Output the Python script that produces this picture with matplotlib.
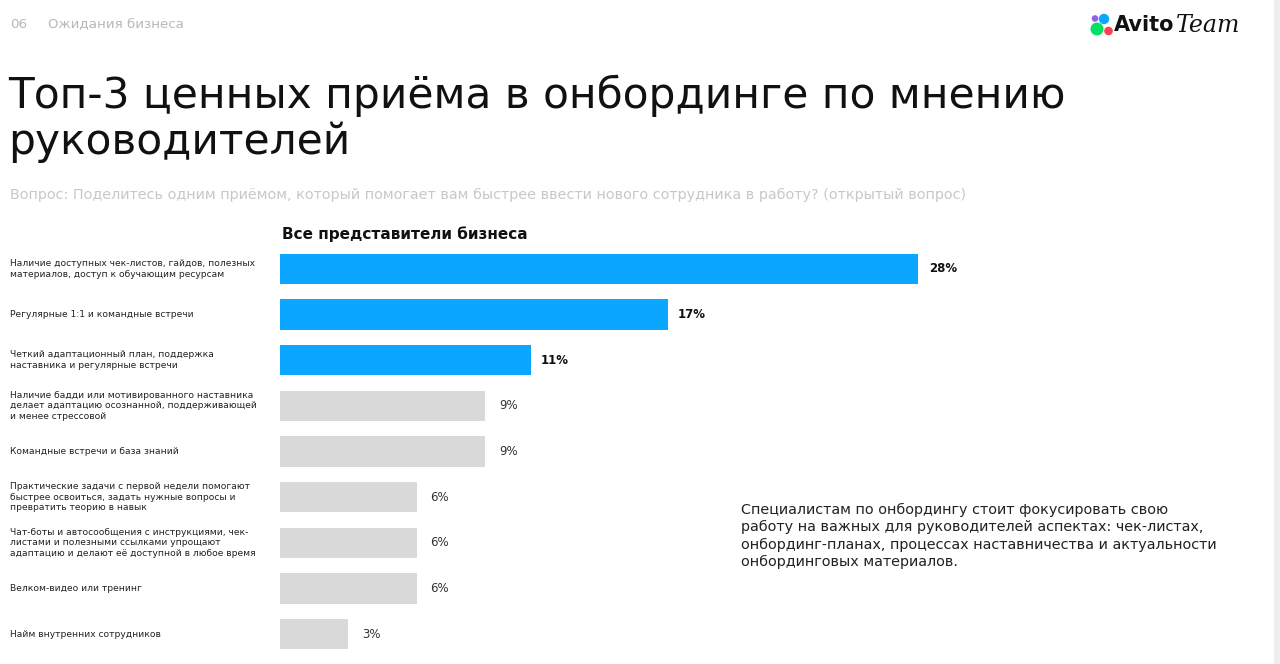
import matplotlib
matplotlib.use("Agg")
import matplotlib.pyplot as plt
import matplotlib.transforms as mtransforms
from matplotlib.patches import Circle, Rectangle

plt.rcParams['font.family'] = ['DejaVu Sans']

categories = [
    "Наличие доступных чек-листов, гайдов, полезных\nматериалов, доступ к обучающим ресурсам",
    "Регулярные 1:1 и командные встречи",
    "Четкий адаптационный план, поддержка\nнаставника и регулярные встречи",
    "Наличие бадди или мотивированного наставника\nделает адаптацию осознанной, поддерживающей\nи менее стрессовой",
    "Командные встречи и база знаний",
    "Практические задачи с первой недели помогают\nбыстрее освоиться, задать нужные вопросы и\nпревратить теорию в навык",
    "Чат-боты и автосообщения с инструкциями, чек-\nлистами и полезными ссылками упрощают\nадаптацию и делают её доступной в любое время",
    "Велком-видео или тренинг",
    "Найм внутренних сотрудников",
]
values = [28, 17, 11, 9, 9, 6, 6, 6, 3]
value_labels = ["28%", "17%", "11%", "9%", "9%", "6%", "6%", "6%", "3%"]
highlight = [True, True, True, False, False, False, False, False, False]

title = "Топ-3 ценных приёма в онбординге по мнению\nруководителей"
subtitle = "Вопрос: Поделитесь одним приёмом, который помогает вам быстрее ввести нового сотрудника в работу? (открытый вопрос)"
section_num = "06"
section_name = "Ожидания бизнеса"
chart_heading = "Все представители бизнеса"
note = ("Специалистам по онбордингу стоит фокусировать свою\n"
        "работу на важных для руководителей аспектах: чек-листах,\n"
        "онбординг-планах, процессах наставничества и актуальности\n"
        "онбординговых материалов.")

BLUE = "#0AA6FF"
GRAY = "#D9D9D9"
W, H = 1280, 664

fig = plt.figure(figsize=(12.8, 6.64), dpi=100)
fig.patch.set_facecolor("white")

def fx(px):
    return px / W

def fy(py):
    return 1 - py / H

# overlay axes in pixel coordinates for decorations
ov = fig.add_axes([0, 0, 1, 1], zorder=-1)
ov.set_xlim(0, W)
ov.set_ylim(H, 0)
ov.axis("off")
ov.add_patch(Rectangle((1274, 0), 6, H, facecolor="#EEEEEE", edgecolor="none"))
for (cx, cy, r, c) in [(1095, 18.5, 3.3, "#965EEB"), (1104, 19, 5.2, "#0AA6FF"),
                       (1097, 29, 6.5, "#04E061"), (1108.5, 31, 4.3, "#FF4053")]:
    ov.add_patch(Circle((cx, cy), r, facecolor=c, edgecolor="none"))

# bar axes
ax_left, ax_right = 280, 1000
ax_top, ax_bot = 246, 657
ax = fig.add_axes([fx(ax_left), fy(ax_bot), fx(ax_right - ax_left), (ax_bot - ax_top) / H])
px_per = 22.8
ax.set_xlim(0, (ax_right - ax_left) / px_per)
n = len(values)
ax.set_ylim(n - 0.5, -0.5)
ax.axis("off")

for i, (v, hl) in enumerate(zip(values, highlight)):
    ax.barh(i, v, height=0.66, color=BLUE if hl else GRAY, edgecolor="none")
    ax.text(v + (0.45 if hl else 0.6), i, value_labels[i], va="center", ha="left",
            fontsize=8.5, fontweight="bold" if hl else "normal",
            color="#111111" if hl else "#333333")

trans = mtransforms.blended_transform_factory(fig.transFigure, ax.transData)
for i, lab in enumerate(categories):
    ax.text(fx(10), i, lab, transform=trans, ha="left", va="center",
            fontsize=6.6, color="#222222", linespacing=1.2)

# header texts
fig.text(fx(10), fy(24), section_num, fontsize=9.7, color="#B8B8B8", va="center", ha="left")
fig.text(fx(48), fy(24), section_name, fontsize=9.6, color="#B8B8B8", va="center", ha="left")
fig.text(fx(8), fy(119), title, fontsize=30.4, color="#111111", va="center", ha="left",
         linespacing=1.12)
fig.text(fx(10), fy(195), subtitle, fontsize=10.35, color="#C8C8C8", va="center", ha="left")
fig.text(fx(282), fy(234), chart_heading, fontsize=11.0, fontweight="bold",
         color="#111111", va="center", ha="left")
fig.text(fx(741), fy(536), note, fontsize=10.4, color="#222222", va="center", ha="left",
         linespacing=1.3)

fig.text(fx(1114), fy(25), "Avito", fontsize=15, fontweight="bold", color="#111111",
         va="center", ha="left")
fig.text(fx(1176), fy(25), "Team", fontsize=17, fontstyle="italic", color="#111111",
         va="center", ha="left", family="DejaVu Serif")

fig.savefig("out.png", dpi=100, facecolor="white")
